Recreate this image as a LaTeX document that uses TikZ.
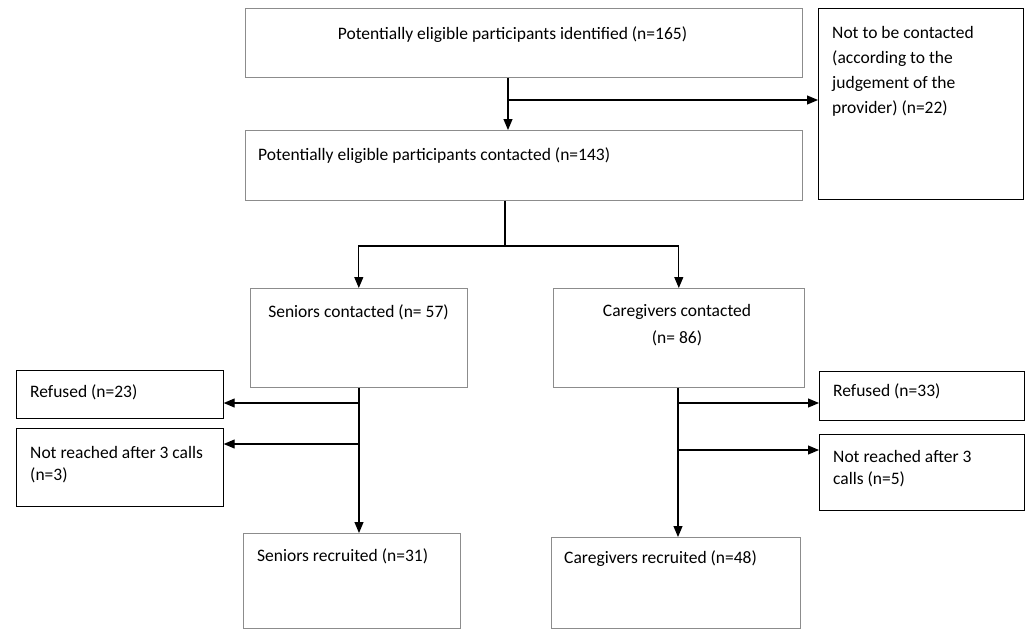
\documentclass[tikz,border=0pt]{standalone}
\usepackage{fontspec}
\setmainfont{Carlito}
\usetikzlibrary{arrows.meta}
\tikzset{
  mainbox/.style={draw=black!45, line width=0.6pt, anchor=north west, inner sep=0pt},
  sidebox/.style={draw=black, line width=0.7pt, anchor=north west, inner sep=0pt},
  txt/.style={font=\fontsize{17.5}{25}\selectfont, inner sep=0pt, align=left},
  txtb/.style={font=\fontsize{17.5}{22}\selectfont, inner sep=0pt, align=left},
  arr/.style={-{Triangle[length=11pt,width=9pt]}, line width=1.1pt}
}
\begin{document}
\begin{tikzpicture}[x=1pt,y=-1pt]
\useasboundingbox[fill=white] (0,0) rectangle (1026,630);
% boxes
\node[mainbox, minimum width=557pt, minimum height=69pt] (A) at (245,8) {};
\node[sidebox, minimum width=205pt, minimum height=191pt] (N) at (818,8) {};
\node[mainbox, minimum width=557pt, minimum height=70pt] (B) at (245,130) {};
\node[mainbox, minimum width=217pt, minimum height=99pt] (S) at (250,288) {};
\node[mainbox, minimum width=251pt, minimum height=99pt] (C) at (553,288) {};
\node[sidebox, minimum width=207pt, minimum height=48pt] (RL) at (16,370) {};
\node[sidebox, minimum width=207pt, minimum height=78pt] (NL) at (16,428) {};
\node[sidebox, minimum width=205pt, minimum height=49pt] (RR) at (819,371) {};
\node[sidebox, minimum width=205pt, minimum height=76pt] (NR) at (819,434) {};
\node[mainbox, minimum width=217pt, minimum height=95pt] (SR) at (243,533) {};
\node[mainbox, minimum width=249pt, minimum height=91pt] (CR) at (551,537) {};
% texts (base = baseline of last line)
\node[txt, anchor=base] (At) at (512.5,39) {Potentially eligible participants identified (n=165)};
\node[txt, anchor=base west] (Nt) at (832,113) {Not to be contacted\\(according to the\\judgement of the\\provider) (n=22)};
\node[txt, anchor=base west] (Bt) at (258,160) {Potentially eligible participants contacted (n=143)};
\node[txt, anchor=base] (St) at (358.5,317) {Seniors contacted (n= 57)};
\node[font=\fontsize{17.5}{27}\selectfont, inner sep=0pt, anchor=base, align=center] (Ct) at (677,343) {Caregivers contacted\\(n= 86)};
\node[txt, anchor=base west] (RLt) at (30,397) {Refused (n=23)};
\node[txtb, anchor=base west] (NLt) at (30,480) {Not reached after 3 calls\\(n=3)};
\node[txt, anchor=base west] (RRt) at (833,396) {Refused (n=33)};
\node[txtb, anchor=base west] (NRt) at (833,484) {Not reached after 3\\calls (n=5)};
\node[txt, anchor=base west] (SRt) at (257,561) {Seniors recruited (n=31)};
\node[txt, anchor=base west] (CRt) at (564,563) {Caregivers recruited (n=48)};
% junction points
\coordinate (j1) at (508,100);
\coordinate (j2) at (505,246);
\coordinate (s1) at (359,403);
\coordinate (s2) at (359,444);
\coordinate (c1) at (678,403);
\coordinate (c2) at (678,450);
% connectors
\draw[arr] (A.south -| j1) -- (B.north -| j1);
\draw[arr] (j1) -- (N.west |- j1);
\draw[arr] (B.south -| j2) -- (j2) -| (S.north);
\draw[arr] (j2) -| (C.north);
\draw[arr] (S.south -| s1) -- (SR.north -| s1);
\draw[arr] (s1) -- (RL.east |- s1);
\draw[arr] (s2) -- (NL.east |- s2);
\draw[arr] (C.south -| c1) -- (CR.north -| c1);
\draw[arr] (c1) -- (RR.west |- c1);
\draw[arr] (c2) -- (NR.west |- c2);
\end{tikzpicture}
\end{document}
